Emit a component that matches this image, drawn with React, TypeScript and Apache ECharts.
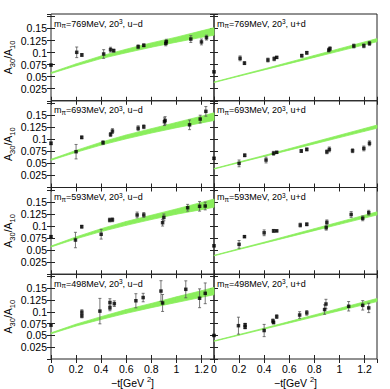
import React, { useEffect, useRef } from 'react';
import * as echarts from 'echarts';

// momentum transfers where the fit bands are sampled
const BAND_T = [0, 0.2, 0.4, 0.6, 0.8, 1.0, 1.2, 1.3];

// m_pi = 769 MeV
const t769ud = [0, 0.205, 0.246, 0.42, 0.475, 0.5, 0.695, 0.74, 0.915, 0.92, 1.115, 1.2, 1.24];
const v769ud = [0.074, 0.1005, 0.095, 0.097, 0.106, 0.104, 0.112, 0.115, 0.119, 0.1225, 0.128, 0.122, 0.131];
const e769ud = [0.002, 0.011, 0.003, 0.009, 0.005, 0.003, 0.004, 0.003, 0.005, 0.005, 0.007, 0.006, 0.005];
const lo769ud = [0.0565, 0.0725, 0.0875, 0.0995, 0.111, 0.1215, 0.1315, 0.136];
const hi769ud = [0.0585, 0.0765, 0.093, 0.107, 0.12, 0.132, 0.145, 0.1515];

const t769upd = [0, 0.208, 0.243, 0.43, 0.48, 0.5, 0.7, 0.74, 0.915, 0.925, 1.115, 1.195, 1.24];
const v769upd = [0.06, 0.088, 0.078, 0.0845, 0.087, 0.09, 0.0935, 0.0995, 0.105, 0.108, 0.1136, 0.114, 0.119];
const e769upd = [0.002, 0.005, 0.003, 0.004, 0.004, 0.002, 0.003, 0.003, 0.004, 0.004, 0.004, 0.004, 0.004];
const lo769upd = [0.0378, 0.051, 0.064, 0.077, 0.09, 0.103, 0.116, 0.1225];
const hi769upd = [0.0388, 0.0525, 0.066, 0.08, 0.094, 0.108, 0.122, 0.129];

// m_pi = 693 MeV
const t693ud = [0, 0.2, 0.245, 0.415, 0.475, 0.49, 0.695, 0.74, 0.905, 0.91, 1.105, 1.19, 1.235];
const v693ud = [0.0917, 0.0743, 0.104, 0.093, 0.11, 0.117, 0.123, 0.126, 0.1365, 0.139, 0.13, 0.142, 0.158];
const e693ud = [0.003, 0.015, 0.003, 0.004, 0.004, 0.005, 0.005, 0.004, 0.008, 0.008, 0.01, 0.008, 0.01];
const lo693ud = [0.0565, 0.073, 0.088, 0.101, 0.113, 0.124, 0.134, 0.139];
const hi693ud = [0.0585, 0.077, 0.094, 0.109, 0.122, 0.135, 0.148, 0.155];

const t693upd = [0, 0.2, 0.245, 0.415, 0.475, 0.5, 0.696, 0.74, 0.9, 0.92, 1.105, 1.195, 1.24];
const v693upd = [0.0606, 0.05, 0.0668, 0.057, 0.071, 0.073, 0.0757, 0.079, 0.074, 0.079, 0.0763, 0.081, 0.0917];
const e693upd = [0.002, 0.007, 0.003, 0.006, 0.004, 0.002, 0.003, 0.003, 0.004, 0.005, 0.004, 0.005, 0.005];
const lo693upd = [0.0382, 0.0515, 0.0645, 0.0775, 0.0905, 0.1035, 0.1165, 0.123];
const hi693upd = [0.0392, 0.053, 0.0665, 0.0805, 0.0945, 0.1085, 0.1225, 0.1295];

// m_pi = 593 MeV
const t593ud = [0, 0.195, 0.245, 0.4, 0.468, 0.49, 0.687, 0.74, 0.89, 0.9, 1.09, 1.185, 1.23];
const v593ud = [0.078, 0.071, 0.0987, 0.083, 0.1125, 0.113, 0.123, 0.123, 0.107, 0.118, 0.138, 0.141, 0.1416];
const e593ud = [0.002, 0.016, 0.003, 0.01, 0.004, 0.004, 0.006, 0.005, 0.007, 0.007, 0.007, 0.01, 0.008];
const lo593ud = [0.0565, 0.0735, 0.0885, 0.1015, 0.1135, 0.1245, 0.134, 0.139];
const hi593ud = [0.0585, 0.0775, 0.0945, 0.1095, 0.1225, 0.1355, 0.149, 0.156];

const t593upd = [0, 0.2, 0.243, 0.4, 0.475, 0.5, 0.688, 0.74, 0.895, 0.9, 1.094, 1.186, 1.234];
const v593upd = [0.059, 0.062, 0.078, 0.086, 0.09, 0.09, 0.102, 0.1036, 0.0966, 0.1077, 0.124, 0.116, 0.1277];
const e593upd = [0.002, 0.008, 0.002, 0.006, 0.003, 0.002, 0.004, 0.003, 0.005, 0.005, 0.006, 0.005, 0.005];
const lo593upd = [0.0382, 0.0515, 0.0645, 0.0775, 0.0905, 0.1035, 0.1165, 0.123];
const hi593upd = [0.0392, 0.053, 0.0665, 0.0805, 0.0945, 0.1085, 0.1225, 0.1295];

// m_pi = 498 MeV
const t498ud = [0, 0.246, 0.246, 0.39, 0.47, 0.47, 0.505, 0.677, 0.735, 0.877, 0.89, 1.075, 1.185, 1.23];
const v498ud = [0.0721, 0.0996, 0.0914, 0.1017, 0.12, 0.1085, 0.1175, 0.1237, 0.1305, 0.1443, 0.119, 0.148, 0.129, 0.1395];
const e498ud = [0.003, 0.005, 0.004, 0.027, 0.008, 0.006, 0.006, 0.015, 0.009, 0.022, 0.018, 0.018, 0.02, 0.022];
const lo498ud = [0.0535, 0.07, 0.084, 0.097, 0.109, 0.12, 0.131, 0.1365];
const hi498ud = [0.0555, 0.074, 0.09, 0.105, 0.118, 0.132, 0.145, 0.152];

const t498upd = [0, 0.195, 0.248, 0.248, 0.4, 0.47, 0.475, 0.5, 0.683, 0.74, 0.882, 0.893, 1.074, 1.186, 1.234];
const v498upd = [0.05, 0.0708, 0.0728, 0.0673, 0.0605, 0.081, 0.0776, 0.09, 0.0934, 0.098, 0.105, 0.1168, 0.112, 0.114, 0.1085];
const e498upd = [0.002, 0.018, 0.003, 0.003, 0.013, 0.004, 0.003, 0.004, 0.007, 0.005, 0.01, 0.01, 0.01, 0.01, 0.01];
const lo498upd = [0.0375, 0.0505, 0.0635, 0.0765, 0.0895, 0.1025, 0.1155, 0.122];
const hi498upd = [0.0385, 0.052, 0.0655, 0.0795, 0.0935, 0.1075, 0.1215, 0.1285];

const MASSES = ['769', '693', '593', '498'];
const FLAVOURS = ['u−d', 'u+d'];

const PANELS = [
  { t: t769ud, v: v769ud, e: e769ud, lo: lo769ud, hi: hi769ud },
  { t: t769upd, v: v769upd, e: e769upd, lo: lo769upd, hi: hi769upd },
  { t: t693ud, v: v693ud, e: e693ud, lo: lo693ud, hi: hi693ud },
  { t: t693upd, v: v693upd, e: e693upd, lo: lo693upd, hi: hi693upd },
  { t: t593ud, v: v593ud, e: e593ud, lo: lo593ud, hi: hi593ud },
  { t: t593upd, v: v593upd, e: e593upd, lo: lo593upd, hi: hi593upd },
  { t: t498ud, v: v498ud, e: e498ud, lo: lo498ud, hi: hi498ud },
  { t: t498upd, v: v498upd, e: e498upd, lo: lo498upd, hi: hi498upd },
];

const FONT = 'Liberation Sans, Arial, sans-serif';
const GREEN = '#8aee5c';
const FRAME = '#222';

const GRID_LEFT = [51, 214];
const GRID_W = 163;
const GRID_TOP0 = 14;
const GRID_H = 86.75;

function buildOption() {
  const grid: any[] = [];
  const xAxis: any[] = [];
  const yAxis: any[] = [];
  const series: any[] = [];
  const graphic: any[] = [];

  PANELS.forEach((p, i) => {
    const row = Math.floor(i / 2);
    const col = i % 2;
    const left = GRID_LEFT[col];
    const top = GRID_TOP0 + row * GRID_H;
    grid.push({ left, top, width: GRID_W, height: GRID_H, show: true, borderColor: FRAME, borderWidth: 1, backgroundColor: 'transparent' });

    const bottomRow = row === 3;
    const xBase = {
      type: 'value', gridIndex: i, min: 0, max: 1.3, interval: 0.2,
      axisLine: { show: false }, splitLine: { show: false },
      axisTick: { show: true, inside: true, length: 4, lineStyle: { color: FRAME } },
    };
    xAxis.push({
      ...xBase, position: 'bottom',
      axisLabel: {
        show: bottomRow, margin: 4, fontSize: 10.5, color: '#000', fontFamily: FONT,
        showMaxLabel: false,
        formatter: (val: number) => (val > 1.25 ? '' : String(Math.round(val * 10) / 10)),
      },
      name: bottomRow ? '{a|−t[GeV }{p|2}{a|]}' : '',
      nameLocation: 'middle', nameGap: 16,
      nameTextStyle: {
        fontFamily: FONT, color: '#000',
        rich: {
          a: { fontSize: 10.5, fontFamily: FONT, color: '#000', lineHeight: 13, verticalAlign: 'bottom' },
          p: { fontSize: 7.5, fontFamily: FONT, color: '#000', verticalAlign: 'top' },
        },
      },
    });
    xAxis.push({ ...xBase, position: 'top', axisLabel: { show: false } });

    const yBase = {
      type: 'value', gridIndex: i, min: 0, max: 0.18, interval: 0.025,
      axisLine: { show: false }, splitLine: { show: false },
      axisTick: { show: true, inside: true, length: 4, lineStyle: { color: FRAME } },
    };
    yAxis.push({
      ...yBase, position: 'left',
      axisLabel: {
        show: col === 0, margin: 4, fontSize: 10.5, color: '#000', fontFamily: FONT,
        showMaxLabel: false, showMinLabel: false,
        formatter: (val: number) => (val <= 0 || val > 0.16 ? '' : String(Math.round(val * 1000) / 1000)),
      },
      name: col === 0 ? '{a|A}{s|30}{a|/A}{s|10}' : '',
      nameLocation: 'middle', nameGap: 27, nameRotate: 90,
      nameTextStyle: {
        fontFamily: FONT, color: '#000',
        rich: {
          a: { fontSize: 10.5, fontFamily: FONT, color: '#000', lineHeight: 14, verticalAlign: 'top' },
          s: { fontSize: 7.5, fontFamily: FONT, color: '#000', verticalAlign: 'bottom' },
        },
      },
    });
    yAxis.push({ ...yBase, position: 'right', axisLabel: { show: false } });

    const xi = i * 2;
    const yi = i * 2;
    // fit band: one quadrilateral per sampled interval
    const bandSegs = BAND_T.slice(0, -1).map((t, k) => [t, p.lo[k], p.hi[k], BAND_T[k + 1], p.lo[k + 1], p.hi[k + 1]]);
    series.push({
      type: 'custom', xAxisIndex: xi, yAxisIndex: yi, z: 1, silent: true,
      encode: { x: [0, 3], y: [1, 2, 4, 5] },
      data: bandSegs,
      renderItem: (_params: any, api: any) => {
        const p0 = api.coord([api.value(0), api.value(1)]);
        const p1 = api.coord([api.value(3), api.value(4)]);
        const p2 = api.coord([api.value(3), api.value(5)]);
        const p3 = api.coord([api.value(0), api.value(2)]);
        return {
          type: 'polygon',
          shape: { points: [p0, p1, p2, p3] },
          style: { fill: GREEN, stroke: GREEN, lineWidth: 0.8 },
        };
      },
    });
    // error bars
    series.push({
      type: 'custom', xAxisIndex: xi, yAxisIndex: yi, z: 3,
      encode: { x: 0, y: 1 },
      data: p.t.map((t, k) => [t, p.v[k], p.e[k]]),
      renderItem: (_params: any, api: any) => {
        const t = api.value(0);
        const v = api.value(1);
        const e = api.value(2);
        const a = api.coord([t, v + e]);
        const b = api.coord([t, v - e]);
        const w = 1.5;
        const st = { stroke: '#555', lineWidth: 0.8 };
        return {
          type: 'group',
          children: [
            { type: 'line', shape: { x1: a[0], y1: a[1], x2: b[0], y2: b[1] }, style: st },
            { type: 'line', shape: { x1: a[0] - w, y1: a[1], x2: a[0] + w, y2: a[1] }, style: st },
            { type: 'line', shape: { x1: b[0] - w, y1: b[1], x2: b[0] + w, y2: b[1] }, style: st },
          ],
        };
      },
    });
    // central values
    series.push({
      type: 'scatter', xAxisIndex: xi, yAxisIndex: yi, z: 4,
      symbol: 'rect', symbolSize: 3.5,
      itemStyle: { color: '#000' },
      data: p.t.map((t, k) => [t, p.v[k]]),
    });

    graphic.push({
      type: 'text', left: left + 3, top: top + 4, z: 10,
      style: {
        text: `{a|m}{s|π}{a|=${MASSES[row]}MeV, 20}{p|3}{a|, ${FLAVOURS[col]}}`,
        fill: '#000', fontFamily: FONT,
        rich: {
          a: { fontSize: 9, fontFamily: FONT, fill: '#000', color: '#000', lineHeight: 11, verticalAlign: 'middle' },
          s: { fontSize: 6.5, fontFamily: FONT, fill: '#000', color: '#000', verticalAlign: 'bottom' },
          p: { fontSize: 6.5, fontFamily: FONT, fill: '#000', color: '#000', verticalAlign: 'top' },
        },
      },
    });
  });

  return {
    animation: false,
    backgroundColor: '#fff',
    grid, xAxis, yAxis, series, graphic,
  };
}

export default function App() {
  const ref = useRef<HTMLDivElement>(null);
  useEffect(() => {
    if (!ref.current) return;
    const chart = echarts.init(ref.current, undefined, { renderer: 'svg' });
    chart.setOption(buildOption() as any);
    return () => chart.dispose();
  }, []);
  return <div ref={ref} style={{ position: 'absolute', left: 0, top: 0, width: 390, height: 389 }} />;
}
